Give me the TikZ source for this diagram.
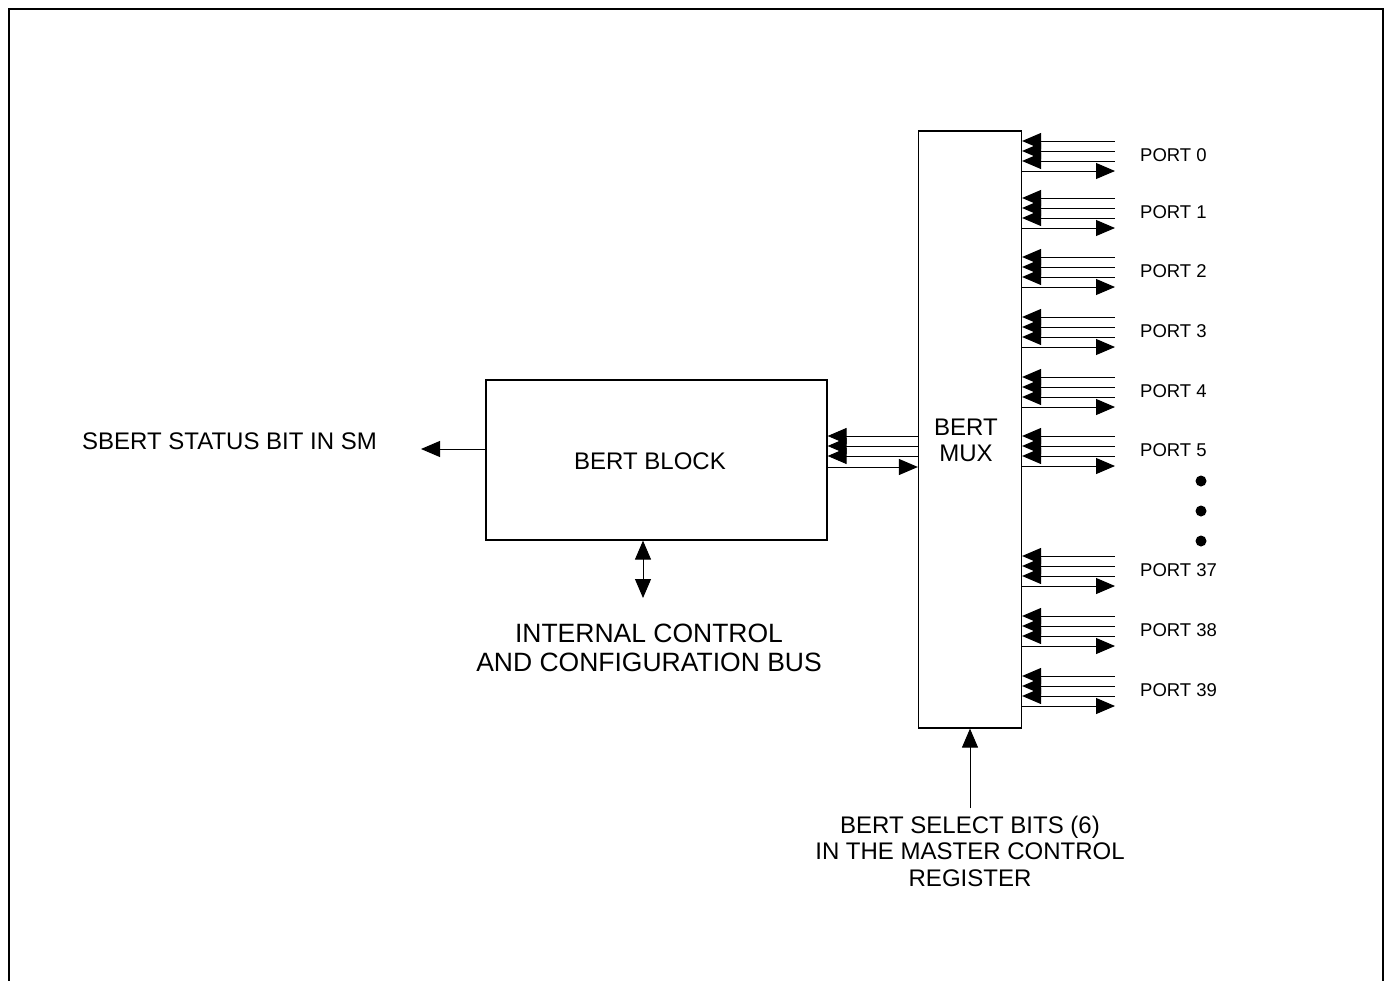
\documentclass[tikz,border=0pt]{standalone}
\usepackage{fontspec}
\setmainfont{Liberation Sans}
\usetikzlibrary{arrows.meta}
\begin{document}
\begin{tikzpicture}[x={(1pt,0)},y={(0,-1pt)},
  wire/.style={line width=1pt,black},
  tri/.tip={Triangle[length=19pt,width=16pt]},
  box/.style={draw,line width=1.2pt,rectangle,inner sep=0pt},
  big/.style={font=\fontsize{24}{26}\selectfont,inner sep=0pt,align=center},
  portlbl/.style={font=\fontsize{18.5}{20}\selectfont,inner sep=0pt,anchor=west},
  dot/.style={circle,fill=black,inner sep=0pt,minimum size=11pt}]
\useasboundingbox (0,0) rectangle (1384,980);
\draw[line width=2.5pt] (9,982) -- (9,9) -- (1383.5,9) -- (1383.5,982);
% blocks
\node[box,minimum width=341pt,minimum height=160pt] (blk) at (656.5,460) {};
\node[big] (blklbl) at (650,461) {BERT BLOCK};
\node[box,minimum width=103pt,minimum height=597pt] (mux) at (970,429.5) {};
\node[big] (muxlbl) at (966,440) {BERT\\MUX};
% left status arrow
\node[big,anchor=west] (sbert) at (82,441) {SBERT STATUS BIT IN SM};
\coordinate (sbertend) at (421,449);
\draw[wire,-tri] (blk.west |- sbertend) -- (sbertend);
% bus
\coordinate (busend) at (643,598);
\draw[wire,tri-tri] (blk.south -| busend) -- (busend);
\node[big,font=\fontsize{26.5}{29}\selectfont] (buslbl) at (649,648) {INTERNAL CONTROL\\AND CONFIGURATION BUS};
% select bits
\coordinate (selstart) at (970,808);
\draw[wire,-tri] (selstart) -- (mux.south -| selstart);
\node[big,font=\fontsize{24}{26.5}\selectfont] (sellbl) at (970,851) {BERT SELECT BITS (6)\\IN THE MASTER CONTROL\\REGISTER};
% block to mux bus
\foreach \yy in {436,446,456} {
  \draw[wire,tri-] (blk.east |- 0,\yy) -- (mux.west |- 0,\yy);
}
\draw[wire,-tri] (blk.east |- 0,467) -- (mux.west |- 0,467);
% ports
\foreach \n/\yy in {0/155,1/212,2/271,3/331,4/391,5/450,37/570,38/630,39/690} {
  \node[portlbl] (p\n) at (1140,\yy) {PORT \n};
  \foreach \d in {-14,-4,6} {
    \draw[wire,tri-] (mux.east |- 0,{\yy+\d}) -- (1115,{\yy+\d});
  }
  \draw[wire,-tri] (mux.east |- 0,{\yy+16}) -- (1115,{\yy+16});
}
\node[dot] (d1) at (1201,481) {};
\node[dot] (d2) at (1201,511) {};
\node[dot] (d3) at (1201,541) {};
\end{tikzpicture}
\end{document}
